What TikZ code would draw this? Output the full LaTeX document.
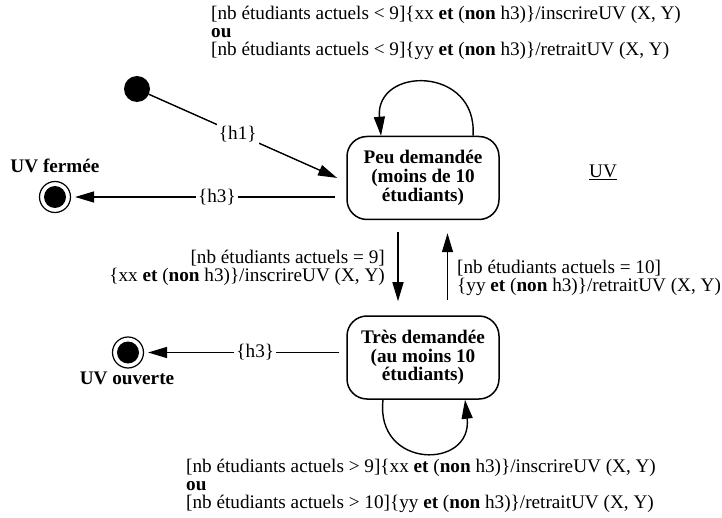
\documentclass[tikz,border=0pt]{standalone}
\usepackage{fontspec}
\setmainfont{Liberation Serif}
\usetikzlibrary{arrows.meta,calc}
\newcommand\fsz{\fontsize{19.2pt}{18.8pt}\selectfont}
\tikzset{
  every node/.style={font=\fsz},
  statebox/.style={draw,line width=1.5pt,rounded corners=20pt,minimum width=152pt,minimum height=83pt,align=center,font=\fsz\bfseries,inner sep=0pt},
  arr/.style={line width=1.4pt,-{Triangle[length=19pt,width=11pt]}},
  lbl/.style={fill=white,inner sep=2pt},
  txtw/.style={anchor=base west,inner sep=0pt},
  txte/.style={anchor=base east,inner sep=0pt},
  finalo/.style={circle,draw,line width=1.2pt,minimum size=31pt,inner sep=0pt},
}
\begin{document}
\begin{tikzpicture}[x=1pt,y=-1pt]
\useasboundingbox (0,0) rectangle (722,518);
% states
\node[statebox] (peu) at (423,178) {Peu demandée\\(moins de 10\\étudiants)};
\node[statebox] (tres) at (423,357.5) {Très demandée\\(au moins 10\\étudiants)};
\node[circle,fill,inner sep=0pt,minimum size=26pt] (init) at (137,89) {};
\node[finalo] (fin1) at (55,197) {};
\fill (fin1.center) circle (11pt);
\node[finalo] (fin2) at (128,352.5) {};
\fill (fin2.center) circle (11pt);
\node[anchor=base,inner sep=0pt,font=\fsz\bfseries] (lfin1) at (55,173) {UV fermée};
\node[anchor=base,inner sep=0pt,font=\fsz\bfseries] (lfin2) at (127,384) {UV ouverte};
\node[anchor=base,inner sep=0pt] (uv) at (603,178) {\underline{UV}};
% transitions
\draw[arr,shorten >=10pt] (init) -- ($(peu.west)+(0,4)$) node[lbl,pos=0.45] (h1) {\{h1\}};
\draw[arr,shorten <=11pt,shorten >=4pt] ($(peu.west)+(0,19)$) -- (fin1) node[lbl,pos=0.47] (h3a) {\{h3\}};
\draw[arr,shorten <=7pt,shorten >=4pt] ($(tres.west)+(0,-5)$) -- (fin2) node[lbl,pos=0.45] (h3b) {\{h3\}};
\draw[arr,shorten <=12pt,shorten >=14pt] ($(peu.south)+(-25,0)$) -- ($(tres.north)+(-25,0)$);
\draw[arr,shorten <=15pt,shorten >=13pt] ($(tres.north)+(24.5,0)$) -- ($(peu.south)+(24.5,0)$);
\draw[arr] ($(peu.north)+(50,0)$) .. controls +(5,-70) and +(-6,-70) .. ($(peu.north)+(-42,0)$);
\draw[arr] ($(tres.south)+(-40,0)$) .. controls +(-8,70) and +(8,70) .. ($(tres.south)+(42,0)$);
% labels
\node[txtw] (t1) at (211,20) {[nb étudiants actuels < 9]\{xx \textbf{et} (\textbf{non} h3)\}/inscrireUV (X, Y)};
\node[txtw,font=\fsz\bfseries] (t2) at (211,38) {ou};
\node[txtw] (t3) at (211,56) {[nb étudiants actuels < 9]\{yy \textbf{et} (\textbf{non} h3)\}/retraitUV (X, Y)};
\node[txte] (l1) at (385,264) {[nb étudiants actuels = 9]};
\node[txte] (l2) at (385,282) {\{xx \textbf{et} (\textbf{non} h3)\}/inscrireUV (X, Y)};
\node[txtw] (r1) at (457,274) {[nb étudiants actuels = 10]};
\node[txtw] (r2) at (457,292) {\{yy \textbf{et} (\textbf{non} h3)\}/retraitUV (X, Y)};
\node[txtw] (b1) at (186,472) {[nb étudiants actuels > 9]\{xx \textbf{et} (\textbf{non} h3)\}/inscrireUV (X, Y)};
\node[txtw,font=\fsz\bfseries] (b2) at (186,490) {ou};
\node[txtw] (b3) at (186,508) {[nb étudiants actuels > 10]\{yy \textbf{et} (\textbf{non} h3)\}/retraitUV (X, Y)};
\end{tikzpicture}
\end{document}
